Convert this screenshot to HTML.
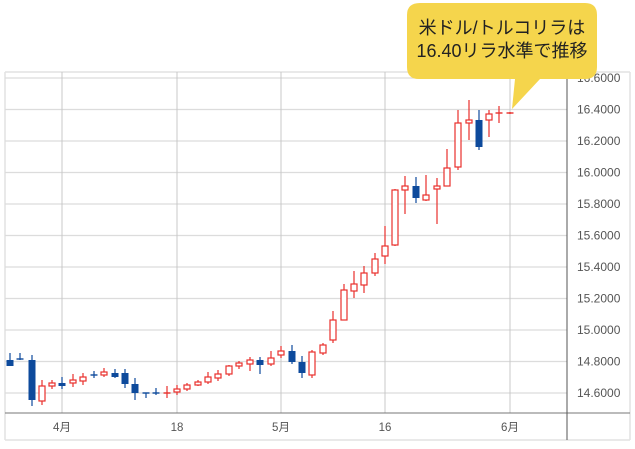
<!DOCTYPE html>
<html><head><meta charset="utf-8"><style>
html,body{margin:0;padding:0;background:#fff;width:635px;height:449px;overflow:hidden}
svg{display:block;font-family:"Liberation Sans","Noto Sans CJK JP",sans-serif}
</style></head><body>
<svg id="s" width="635" height="449" viewBox="0 0 635 449">
<rect x="0" y="0" width="635" height="449" fill="#fff"/>
<g stroke="#e2e2e2" stroke-width="1.5">
<line x1="5" y1="72" x2="630" y2="72"/>
<line x1="630" y1="72" x2="630" y2="440"/>
<line x1="5" y1="440" x2="630" y2="440"/>
<line x1="5" y1="72" x2="5" y2="440"/>
</g>
<g id="grid" stroke="#dcdcdc" stroke-width="1.2"></g>
<g stroke="#c8c8c8" stroke-width="1">
<line x1="62" y1="72" x2="62" y2="413"/><line x1="177" y1="72" x2="177" y2="413"/>
<line x1="281" y1="72" x2="281" y2="413"/><line x1="385" y1="72" x2="385" y2="413"/>
<line x1="510" y1="72" x2="510" y2="413"/>
</g>
<line x1="5" y1="413" x2="630" y2="413" stroke="#777" stroke-width="1"/>
<line x1="567" y1="72" x2="567" y2="440" stroke="#555" stroke-width="1"/>
<g font-size="11.5" fill="#555" text-anchor="middle">
<text x="62" y="431">4月</text><text x="177" y="431">18</text><text x="281" y="431">5月</text>
<text x="385" y="431">16</text><text x="510" y="431">6月</text>
</g>
<g id="yl" font-size="12" fill="#555"></g>
<g id="c"></g>
<path d="M420,3 H585 Q597,3 597,15 V67 Q597,79 585,79 H540 L512,109 L515,79 H419 Q407,79 407,67 V15 Q407,3 420,3 Z" fill="#f5d54c"/>
<g font-size="18" fill="#222" text-anchor="middle">
<text x="502" y="34">米ドル/トルコリラは</text>
<text x="502" y="57">16.40リラ水準で推移</text>
</g>
</svg>
<script>
var ns="http://www.w3.org/2000/svg";
function el(p,t,a){var e=document.createElementNS(ns,t);for(var k in a)e.setAttribute(k,a[k]);p.appendChild(e);return e;}
var g=document.getElementById('grid'),yl=document.getElementById('yl');
var labs=["16.6000","16.4000","16.2000","16.0000","15.8000","15.6000","15.4000","15.2000","15.0000","14.8000","14.6000"];
for(var i=0;i<11;i++){var y=78+i*31.5;el(g,'line',{x1:5,y1:y,x2:567,y2:y});var t=el(yl,'text',{x:577,y:y+4});t.textContent=labs[i];}
var d=[
[10,0,360,366,353,366],[20,0,359,360,353,360],[32,0,360,400,355,406],[42,1,386,401,380,405],
[52,1,383,386,380,389],[62,0,383,386,377,389],[73,1,380,383,374,387],[83,1,377,381,373,385],
[94,0,375,376,371,378],[104,1,372,375,368,377],[115,0,373,377,369,378],[125,0,373,384,369,388],
[135,0,384,393,378,400],[146,0,393,394,393,398],[156,0,393,394,388,395],[167,1,393,394,386,398],
[177,1,389,392,385,395],[187,1,385,389,383,391],[198,1,382,385,380,386],[208,1,377,382,372,384],
[218,1,374,378,370,381],[229,1,366,374,365,376],[239,1,363,366,361,369],[250,1,360,364,357,371],
[260,0,360,365,357,374],[271,1,358,364,351,366],[281,1,351,355,346,358],[292,0,351,362,345,364],
[302,0,362,373,356,378],[312,1,352,375,350,378],[323,1,345,353,343,355],[333,1,320,340,311,343],
[344,1,290,320,284,320],[354,1,284,291,271,298],[364,1,273,285,266,293],[375,1,259,273,253,276],
[385,1,246,256,226,264],[395,1,190,245,189,246],[405,1,186,190,176,214],[416,0,186,198,177,203],
[426,1,195,200,175,201],[437,1,186,189,178,224],[447,1,168,186,149,186],[458,1,123,167,110,170],
[469,1,120,123,100,140],[479,0,120,147,110,150],[489,1,114,120,110,137],[499,1,113,114,106,123],
[510,1,113,113,112,114]];
var c=document.getElementById('c');
d.forEach(function(k){var col=k[1]?"#e8302c":"#0d4a9c";
el(c,'line',{x1:k[0],y1:k[4],x2:k[0],y2:k[5],stroke:col,'stroke-width':1.2});
var h=k[3]-k[2];
if(h<2){el(c,'line',{x1:k[0]-3.5,y1:k[2],x2:k[0]+3.5,y2:k[2],stroke:col,'stroke-width':1.4});}
else if(k[1]){el(c,'rect',{x:k[0]-3,y:k[2],width:6,height:h,fill:"#fff",stroke:col,'stroke-width':1.2});}
else{el(c,'rect',{x:k[0]-3.5,y:k[2],width:7,height:h,fill:col});}
});
</script>
</body></html>
